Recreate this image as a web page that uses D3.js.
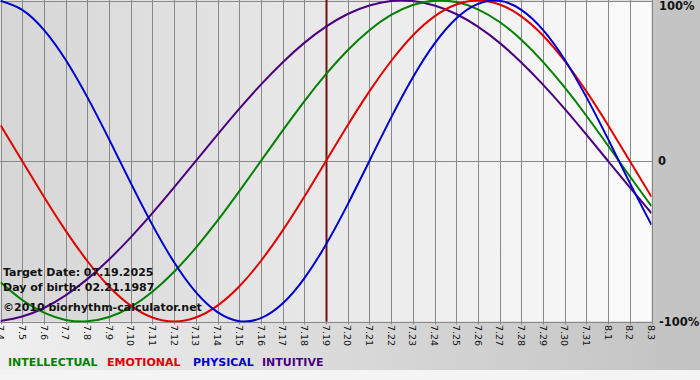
<!DOCTYPE html>
<html>
<head>
<meta charset="utf-8">
<script src="https://cdn.jsdelivr.net/npm/d3@7"></script>
<style>
html,body{margin:0;padding:0;background:#f4f4f4;}
svg{display:block;}
</style>
</head>
<body>
<svg id="chart" width="700" height="380"></svg>
<script>
const dates = ["7.4","7.5","7.6","7.7","7.8","7.9","7.10","7.11","7.12","7.13","7.14","7.15","7.16","7.17","7.18","7.19","7.20","7.21","7.22","7.23","7.24","7.25","7.26","7.27","7.28","7.29","7.30","7.31","8.1","8.2","8.3"];
const physical = [0.998,0.942,0.817,0.631,0.398,0.136,-0.136,-0.398,-0.631,-0.817,-0.942,-0.998,-0.979,-0.888,-0.731,-0.520,-0.270,0,0.270,0.520,0.731,0.888,0.979,0.998,0.942,0.817,0.631,0.398,0.136,-0.136,-0.398];
const emotional = [0.223,0,-0.223,-0.434,-0.623,-0.782,-0.901,-0.975,-1,-0.975,-0.901,-0.782,-0.623,-0.434,-0.223,0,0.223,0.434,0.623,0.782,0.901,0.975,1,0.975,0.901,0.782,0.623,0.434,0.223,0,-0.223];
const intellectual = [-0.756,-0.866,-0.945,-0.990,-0.999,-0.972,-0.910,-0.815,-0.690,-0.541,-0.372,-0.189,0,0.189,0.372,0.541,0.690,0.815,0.910,0.972,0.999,0.990,0.945,0.866,0.756,0.618,0.458,0.282,0.095,-0.095,-0.282];
const intuitive = [-0.997,-0.969,-0.916,-0.837,-0.736,-0.614,-0.476,-0.325,-0.165,0,0.165,0.325,0.476,0.614,0.736,0.837,0.916,0.969,0.997,0.997,0.969,0.916,0.837,0.736,0.614,0.476,0.325,0.165,0,-0.165,-0.325];
const yTicks = [1, 0, -1];
const yTickLabels = ["100%", "0", "-100%"];
const targetDate = "7.19";
const infoLines = ["Target Date: 07.19.2025", "Day of birth: 02.21.1987", "©2010 biorhythm-calculator.net"];
const legendNames = ["INTELLECTUAL", "EMOTIONAL", "PHYSICAL", "INTUITIVE"];
const legendColors = ["#008000", "#e00000", "#0000cc", "#4b0082"];
const seriesList = [
  {key:"intuitive", values:intuitive, color:"#4b0082"},
  {key:"intellectual", values:intellectual, color:"#008000"},
  {key:"emotional", values:emotional, color:"#e00000"},
  {key:"physical", values:physical, color:"#0000cc"}
];

const svg = d3.select("#chart");
const W = 700, H = 380;
const plot = {left:0.5, right:651.5, top:0.5, bottom:321.5};
const FONT = "DejaVu Sans, Verdana, sans-serif";

const defs = svg.append("defs");
const g1 = defs.append("linearGradient").attr("id","bg").attr("x1","0").attr("x2","1").attr("y1","0").attr("y2","0");
g1.append("stop").attr("offset","0").attr("stop-color","#f0f0f0");
g1.append("stop").attr("offset","1").attr("stop-color","#c2c2c2");
const g2 = defs.append("linearGradient").attr("id","plotbg").attr("x1","0").attr("x2","1").attr("y1","0").attr("y2","0");
g2.append("stop").attr("offset","0").attr("stop-color","#d6d6d6");
g2.append("stop").attr("offset","1").attr("stop-color","#fbfbfb");
defs.append("clipPath").attr("id","clip").append("rect")
  .attr("x",plot.left).attr("y",plot.top-1).attr("width",plot.right-plot.left).attr("height",plot.bottom-plot.top+2);

svg.append("rect").attr("x",0).attr("y",0).attr("width",W).attr("height",370).attr("fill","url(#bg)");
svg.append("rect").attr("x",0).attr("y",370).attr("width",W).attr("height",10).attr("fill","#f4f4f4");

const x = d3.scalePoint().domain(dates).range([plot.left, plot.right]);
const y = d3.scaleLinear().domain([-1, 1]).range([plot.bottom, plot.top]);

svg.append("rect").attr("x",plot.left).attr("y",plot.top).attr("width",plot.right-plot.left).attr("height",plot.bottom-plot.top).attr("fill","url(#plotbg)");

// vertical grid
svg.append("g").selectAll("line").data(dates).join("line")
  .attr("x1",d=>Math.round(x(d))+0.5).attr("x2",d=>Math.round(x(d))+0.5)
  .attr("y1",0).attr("y2",plot.bottom+3)
  .attr("stroke","#888").attr("stroke-width",1);
// horizontal lines
svg.append("g").selectAll("line").data(yTicks).join("line")
  .attr("x1",0).attr("x2",Math.round(plot.right)+0.5)
  .attr("y1",d=>Math.round(y(d))+0.5).attr("y2",d=>Math.round(y(d))+0.5)
  .attr("stroke","#888").attr("stroke-width",1);

// target date line
svg.append("line")
  .attr("x1",Math.round(x(targetDate))+0.5).attr("x2",Math.round(x(targetDate))+0.5)
  .attr("y1",0).attr("y2",plot.bottom)
  .attr("stroke","#6e1010").attr("stroke-width",2);

// series
const line = d3.line().x((d,i)=>x(dates[i])).y(d=>y(d)).curve(d3.curveNatural);
svg.append("g").attr("clip-path","url(#clip)").selectAll("path").data(seriesList).join("path")
  .attr("d",d=>line(d.values)).attr("fill","none").attr("stroke",d=>d.color).attr("stroke-width",2);

// info text
svg.append("g").selectAll("text").data(infoLines).join("text")
  .attr("x",3).attr("y",(d,i)=>[276,291,311][i])
  .attr("font-family",FONT).attr("font-weight","bold").attr("font-size",11)
  .attr("fill","#111").text(d=>d);

// x tick labels rotated
svg.append("g").selectAll("text").data(dates).join("text")
  .attr("transform",d=>`translate(${x(d)},325) rotate(90)`)
  .attr("dy","0.35em")
  .attr("font-family",FONT).attr("font-size",9.5)
  .attr("fill","#111").text(d=>d);

// y labels
svg.append("g").selectAll("text").data(yTicks).join("text")
  .attr("x",(d,i)=> i===1 ? 658 : 659)
  .attr("y",d=>y(d)).attr("dy", d=> d===1 ? "0.85em" : "0.38em")
  .attr("font-family",FONT).attr("font-weight","bold").attr("font-size",11.5)
  .attr("fill","#111").text((d,i)=>yTickLabels[i]);

// legend
const legendX = [8, 107, 193, 262];
svg.append("g").selectAll("text").data(legendNames).join("text")
  .attr("x",(d,i)=>legendX[i]).attr("y",366)
  .attr("font-family",FONT).attr("font-weight","bold").attr("font-size",11)
  .attr("fill",(d,i)=>legendColors[i]).text(d=>d);
</script>
</body>
</html>
